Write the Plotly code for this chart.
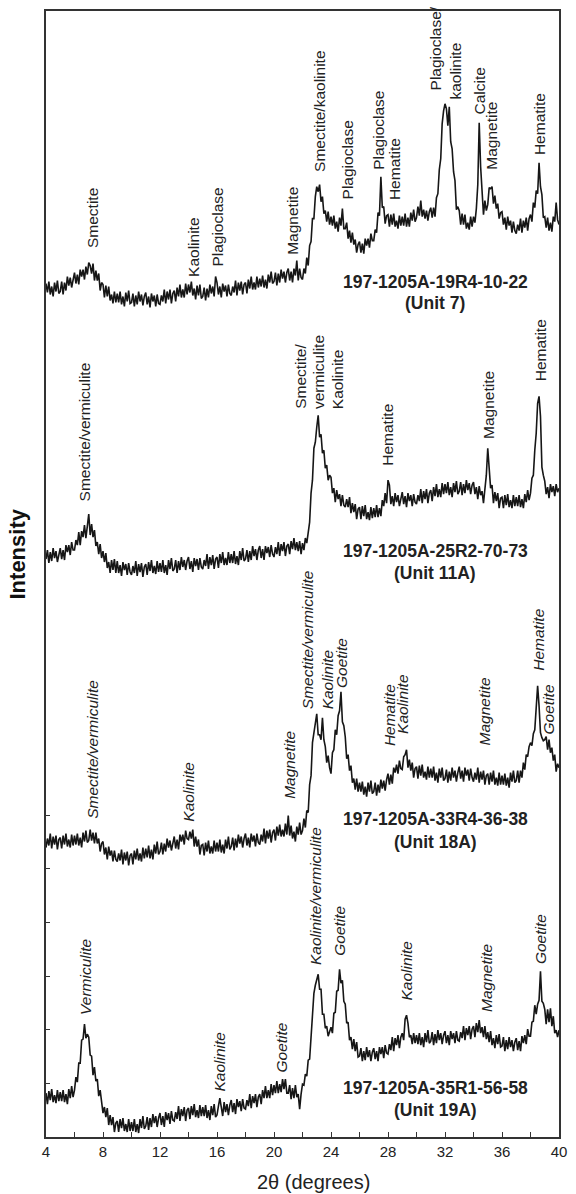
import numpy as np
import plotly.graph_objects as go

# ---------------- data ----------------
two_theta = np.round(4.0 + 0.1 * np.arange(361), 1)   # 4.0 ... 40.0 deg, 0.1 deg sampling

sample_ids = ["197-1205A-19R4-10-22", "197-1205A-25R2-70-73",
              "197-1205A-33R4-36-38", "197-1205A-35R1-56-58"]
sample_units = ["(Unit 7)", "(Unit 11A)", "(Unit 18A)", "(Unit 19A)"]
stack_offsets = [820, 550, 270, 0]          # vertical offset of each pattern
label_y1 = [857, 587, 319, 49]              # sample-name label level
label_y2 = [835, 565, 296, 27]              # unit label level

int_19R4 = [
    35,26,37,24,32,22,36,27,38,25,  27,37,24,36,28,42,33,41,31,41,
    46,35,44,34,49,42,49,39,52,44,  56,53,45,55,38,48,38,45,28,36,
    34,21,33,22,32,18,24,15,27,16,  25,16,27,14,22,12,26,17,28,15,
    16,25,12,23,14,27,17,24,13,22,  26,14,22,11,25,17,23,12,24,15,
    14,23,17,29,15,27,19,29,15,25,  28,17,31,22,34,21,29,21,35,24,
    34,26,37,23,30,19,33,23,34,20,  22,31,18,30,21,34,25,32,22,42,
    36,24,32,21,35,27,33,22,34,25,  23,32,26,38,23,36,28,37,24,34,
    36,25,39,30,42,29,36,29,42,31,  40,32,43,31,39,30,44,36,47,35,
    37,46,33,45,36,49,40,47,36,46,  50,38,47,36,50,43,58,38,50,41,
    39,50,45,61,53,73,77,100,100,122,  132,127,134,117,122,105,108,97,107,94,
    102,93,103,90,97,87,101,93,110,90,  90,96,80,88,76,86,74,79,66,74,
    77,66,75,65,80,73,80,71,85,78,  78,89,86,106,103,142,111,112,95,103,
    104,92,104,94,105,92,98,90,103,93,  102,93,105,92,101,92,106,98,109,97,
    101,112,103,118,102,109,100,108,98,107,  111,101,111,102,121,125,149,160,195,208,
    215,210,193,212,177,170,147,138,109,112,  108,94,105,94,104,90,96,89,102,92,
    102,96,110,134,196,152,126,104,118,108,  114,131,130,132,115,123,110,115,100,106,
    107,94,101,89,102,93,98,86,97,88,  85,94,88,100,86,98,91,101,88,100,
    104,97,116,111,128,125,156,132,124,101,  102,91,101,88,96,87,102,97,116,99,
    94]

int_25R2 = [
    29,38,25,36,27,40,30,37,26,35,  40,29,38,28,43,36,43,33,46,38,
    38,48,43,56,43,57,51,63,50,62,  74,53,64,51,58,42,46,34,44,30,
    37,26,35,20,26,15,28,18,29,15,  27,15,23,12,26,18,24,13,25,16,
    13,22,15,27,12,24,16,25,11,21,  24,13,26,17,28,15,22,14,27,16,
    25,16,28,15,23,13,28,19,30,17,  19,28,15,27,18,31,21,28,18,27,
    31,19,27,16,30,22,29,18,30,21,  19,28,22,34,19,31,23,33,19,29,
    31,20,34,25,36,23,30,23,36,25,  34,25,37,24,32,23,37,28,40,27,
    29,38,26,37,28,42,32,39,28,38,  42,30,39,28,42,35,41,31,43,34,
    31,41,34,46,32,44,37,46,32,42,  44,34,47,39,50,38,46,37,47,34,
    45,38,50,45,59,66,95,108,140,146,  161,173,151,154,135,138,120,123,108,113,
    111,95,100,86,98,89,94,82,93,83,  81,89,81,91,75,85,76,84,69,79,
    81,69,82,72,83,69,76,68,81,70,  80,71,83,71,80,72,88,82,95,85,
    108,103,84,92,82,95,86,93,82,91,  96,84,92,81,95,87,93,82,94,86,
    84,93,87,99,85,97,89,99,85,95,  98,87,101,92,104,91,99,91,105,94,
    104,95,106,93,101,91,105,96,107,94,  97,106,93,104,95,108,98,105,94,103,
    106,94,101,89,102,93,97,85,101,113,  140,120,100,103,85,96,87,95,80,90,
    91,80,93,83,94,81,88,80,93,82,  91,82,93,81,89,80,94,86,98,88,
    95,110,113,138,155,185,192,172,121,113,  107,94,101,90,104,96,102,92,104,96,
    100]

int_33R4 = [
    20,29,22,34,19,31,23,32,18,28,  30,19,32,23,34,21,28,20,33,22,
    32,23,34,22,30,20,35,26,37,25,  27,38,27,35,24,35,24,29,16,24,
    26,13,20,8,21,12,17,6,17,8,  6,14,7,18,3,15,7,16,2,12,
    14,3,17,8,19,7,14,6,20,9,  19,10,22,9,18,8,23,14,26,13,
    16,25,13,24,16,29,20,27,17,26,  31,19,28,18,33,26,33,23,37,29,
    28,36,29,38,21,31,21,28,13,22,  23,12,25,16,27,14,21,14,27,16,
    25,16,28,15,23,14,28,19,31,18,  21,30,17,29,20,33,24,31,20,29,
    34,22,30,20,34,26,32,21,34,25,  23,33,26,39,24,37,29,38,25,35,
    38,27,41,32,43,31,38,31,44,33,  52,32,42,29,36,26,41,33,45,33,
    37,49,40,57,55,83,92,125,134,147,  154,133,133,128,150,128,121,105,112,100,
    94,115,118,138,133,152,157,176,146,142,  131,109,113,97,102,85,89,78,89,76,
    85,76,86,73,81,71,85,76,87,74,  76,85,72,83,75,88,79,87,77,88,
    94,83,93,84,100,95,103,94,107,99,  98,111,113,118,100,108,97,105,90,99,
    101,89,102,92,103,90,96,88,101,90,  99,90,101,87,95,85,99,90,100,87,
    89,98,85,96,87,100,90,97,86,95,  101,89,97,86,100,92,98,87,99,90,
    86,95,88,100,85,96,88,97,83,92,  94,83,95,86,97,83,90,82,95,83,
    92,83,94,82,90,80,95,86,97,85,  87,97,85,97,90,105,98,113,111,121,
    125,122,134,138,164,182,162,135,130,127,  128,131,118,128,115,120,107,113,96,104,
    100]

int_35R1 = [
    44,33,46,37,48,35,42,34,47,36,  45,36,47,35,43,33,48,39,51,40,
    47,60,55,74,74,97,98,113,99,103,  100,82,81,62,70,56,58,41,47,32,
    24,30,20,29,12,22,12,20,5,14,  16,5,18,9,19,6,13,5,18,6,
    15,6,18,5,13,4,18,9,21,8,  11,20,7,19,10,23,14,21,10,19,
    24,12,21,10,25,17,24,13,26,17,  16,25,18,31,16,28,21,30,16,27,
    29,18,31,22,33,20,27,19,32,21,  30,21,32,19,27,17,31,22,33,20,
    22,31,39,30,21,35,25,33,22,32,  37,25,34,23,38,30,36,26,38,29,
    28,37,31,43,29,41,34,43,30,40,  43,33,47,39,51,39,47,39,53,42,
    52,44,56,44,53,45,58,48,58,44,  44,52,38,49,39,52,40,43,28,43,
    53,52,63,61,77,78,103,117,144,152,  159,163,148,148,123,123,109,111,101,105,
    110,104,124,125,146,147,168,154,157,136,  133,114,115,97,100,88,98,86,95,80,
    81,89,76,86,77,90,80,87,76,85,  89,78,86,76,90,83,90,79,92,84,
    83,93,87,100,86,99,92,102,89,100,  104,97,118,122,114,100,102,93,104,94,
    102,93,104,92,100,90,104,95,107,94,  96,105,92,103,94,107,97,104,93,102,
    106,94,102,92,106,98,104,94,106,97,  96,105,99,111,97,109,102,111,98,108,
    111,100,114,105,117,104,110,100,111,98,  105,95,106,92,99,89,102,93,103,90,
    91,100,86,97,88,100,90,97,86,95,  99,87,96,86,101,94,102,93,108,101,
    101,115,116,132,123,133,137,166,136,134,  128,113,128,115,129,111,121,104,107,100,
    107]

patterns = [int_19R4, int_25R2, int_33R4, int_35R1]

# peak labels: (text, 2-theta, level), per pattern
peaks_19R4 = [("Smectite", 7.26, 889), ("Kaolinite", 14.31, 860), ("Plagioclase", 15.97, 870),
              ("Magnetite", 21.28, 882), ("Smectite/kaolinite", 23.14, 965), ("Plagioclase", 25.14, 937),
              ("Plagioclase", 27.34, 967), ("Hematite", 28.45, 937), ("Plagioclase/", 31.34, 1046),
              ("kaolinite", 32.72, 1037), ("Calcite", 34.40, 1022), ("Magnetite", 35.30, 967),
              ("Hematite", 38.62, 982)]
peaks_25R2 = [("Smectite/vermiculite", 6.72, 635), ("Smectite/", 21.90, 727), ("vermiculite", 23.14, 727),
              ("Kaolinite", 24.45, 727), ("Hematite", 27.97, 670), ("Magnetite", 35.00, 697),
              ("Hematite", 38.66, 755)]
peaks_33R4 = [("Smectite/vermiculite", 7.21, 317), ("Kaolinite", 13.97, 314), ("Magnetite", 21.07, 337),
              ("Smectite/vermiculite", 22.31, 427), ("Kaolinite", 23.76, 426), ("Goetite", 24.79, 448),
              ("Hematite", 28.10, 390), ("Kaolinite", 29.00, 402), ("Magnetite", 34.79, 390),
              ("Hematite", 38.59, 465), ("Goetite", 39.28, 401)]
peaks_35R1 = [("Vermiculite", 6.72, 120), ("Kaolinite", 16.17, 44), ("Goetite", 20.52, 63),
              ("Kaolinite/vermiculite", 22.93, 170), ("Goetite", 24.59, 180), ("Kaolinite", 29.28, 135),
              ("Magnetite", 34.86, 123), ("Goetite", 38.72, 171)]
peak_sets = [peaks_19R4, peaks_25R2, peaks_33R4, peaks_35R1]
italic_labels = [False, False, True, True]

x_ticks = list(range(4, 41, 2))
x_tick_text = [str(v) if v % 4 == 0 else "" for v in x_ticks]
y_ticks = [53.7, 107.4, 161.1, 214.8, 268.5, 322.2]

# ---------------- figure ----------------
FONT = "Arial, 'Liberation Sans', Helvetica, sans-serif"
INK = "#161616"

fig = go.Figure()
for vals, off in zip(patterns, stack_offsets):
    fig.add_trace(go.Scatter(
        x=two_theta, y=np.array(vals) + off, mode="lines",
        line=dict(color=INK, width=1.6), hoverinfo="skip", showlegend=False))

ann = []
for peaks, ital in zip(peak_sets, italic_labels):
    for text, xx, yy in peaks:
        t = f"<i>{text}</i>" if ital else text
        ann.append(dict(x=xx, y=yy, xref="x", yref="y", text=t, showarrow=False,
                        textangle=-90, xanchor="center", yanchor="bottom",
                        font=dict(family=FONT, size=15.5, color="#222")))
for sid, unit, y1, y2 in zip(sample_ids, sample_units, label_y1, label_y2):
    ann.append(dict(x=31.3, y=y1, xref="x", yref="y", text=f"<b>{sid}</b>", showarrow=False,
                    xanchor="center", yanchor="middle", font=dict(family=FONT, size=17.5, color="#222")))
    ann.append(dict(x=31.3, y=y2, xref="x", yref="y", text=f"<b>{unit}</b>", showarrow=False,
                    xanchor="center", yanchor="middle", font=dict(family=FONT, size=17.5, color="#222")))

ann.append(dict(x=22.8, y=-0.04, xref="x", yref="paper", text="2θ (degrees)", showarrow=False,
                xanchor="center", yanchor="middle", font=dict(family=FONT, size=20, color="#222")))
ann.append(dict(x=-0.0557, y=0.5177, xref="paper", yref="paper", text="<b>Intensity</b>", showarrow=False,
                textangle=-90, xanchor="center", yanchor="middle", font=dict(family=FONT, size=22, color="#111")))

fig.update_layout(
    width=576, height=1194, autosize=False,
    margin=dict(l=46, r=9, t=9, b=57),
    paper_bgcolor="white", plot_bgcolor="white",
    annotations=ann,
    xaxis=dict(range=[4, 40], tickvals=x_ticks, ticktext=x_tick_text, ticks="inside", ticklen=5,
               tickwidth=1.2, tickcolor="#333", showline=True, mirror=True, linecolor="#333", linewidth=1.6,
               showgrid=False, zeroline=False, tickfont=dict(family=FONT, size=15, color="#222")),
    yaxis=dict(range=[0, 1128], tickvals=y_ticks, ticks="inside", ticklen=4, tickwidth=1.2,
               tickcolor="#333", showticklabels=False, showline=True, mirror=True, linecolor="#333",
               linewidth=1.6, showgrid=False, zeroline=False),
)

fig.write_html("out.html", config={"displayModeBar": False},
               post_script="document.body.style.margin='0px';document.body.style.padding='0px';")
